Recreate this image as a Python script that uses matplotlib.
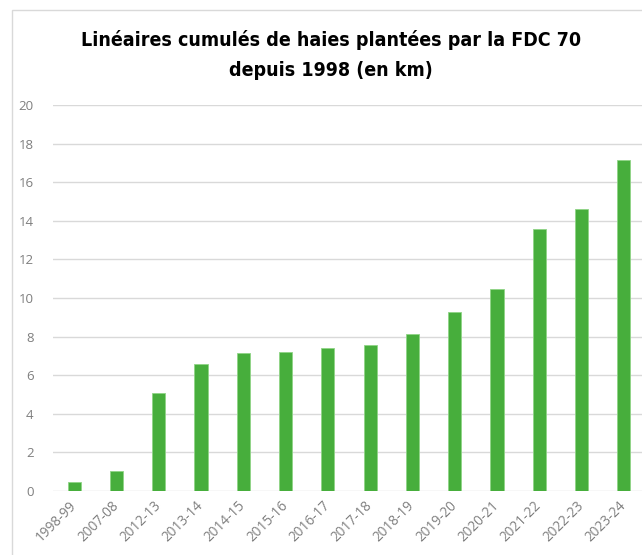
import matplotlib
matplotlib.use("Agg")
import matplotlib.pyplot as plt
from matplotlib.patches import Rectangle
from matplotlib import font_manager

categories = ["1998-99", "2007-08", "2012-13", "2013-14", "2014-15", "2015-16", "2016-17",
              "2017-18", "2018-19", "2019-20", "2020-21", "2021-22", "2022-23", "2023-24"]
values = [0.48, 1.03, 5.1, 6.58, 7.15, 7.2, 7.4, 7.57, 8.13, 9.27, 10.48, 13.56, 14.61, 17.17]
yticks = [0, 2, 4, 6, 8, 10, 12, 14, 16, 18, 20]

W, H = 642, 555
fig = plt.figure(figsize=(W / 100, H / 100), dpi=100)
fig.patch.set_facecolor("white")

# chart frame
fig.patches.append(Rectangle((12 / W, -0.01), 1.0, 1 - 10 / H + 0.01, transform=fig.transFigure,
                             fill=False, edgecolor="#D9D9D9", linewidth=1.0))

ax = fig.add_axes([53 / W, 1 - 491 / H, (645 - 53) / W, (491 - 105) / H])
x = list(range(len(categories)))
ax.bar(x, values, width=0.31, color="#47AE3C", edgecolor="#8FD486", linewidth=0.6, zorder=3)
ax.set_xlim(-0.5, len(categories) - 0.5)
ax.set_ylim(0, 20)
ax.set_yticks(yticks)
ax.set_yticklabels([str(v) for v in yticks], fontsize=9.5, color="#7F7F7F", family="Open Sans")
ax.yaxis.grid(True, color="#D9D9D9", linewidth=1.0, zorder=0)
ax.set_xticks(x)
ax.set_xticklabels(categories, rotation=45, ha="right", va="center", rotation_mode="anchor",
                   fontsize=9.8, color="#7F7F7F", family="Open Sans")
ax.tick_params(axis="y", length=0, pad=14)
ax.tick_params(axis="x", length=0, pad=9)
for s in ax.spines.values():
    s.set_visible(False)

fp = font_manager.FontProperties(family=["DejaVu Sans"], stretch="condensed", weight="bold", size=14)
fig.text(331 / W, 1 - 55 / H, "Linéaires cumulés de haies plantées par la FDC 70\ndepuis 1998 (en km)",
         ha="center", va="center", fontproperties=fp, linespacing=1.8, color="black")

fig.savefig("out.png", dpi=100, facecolor="white")
